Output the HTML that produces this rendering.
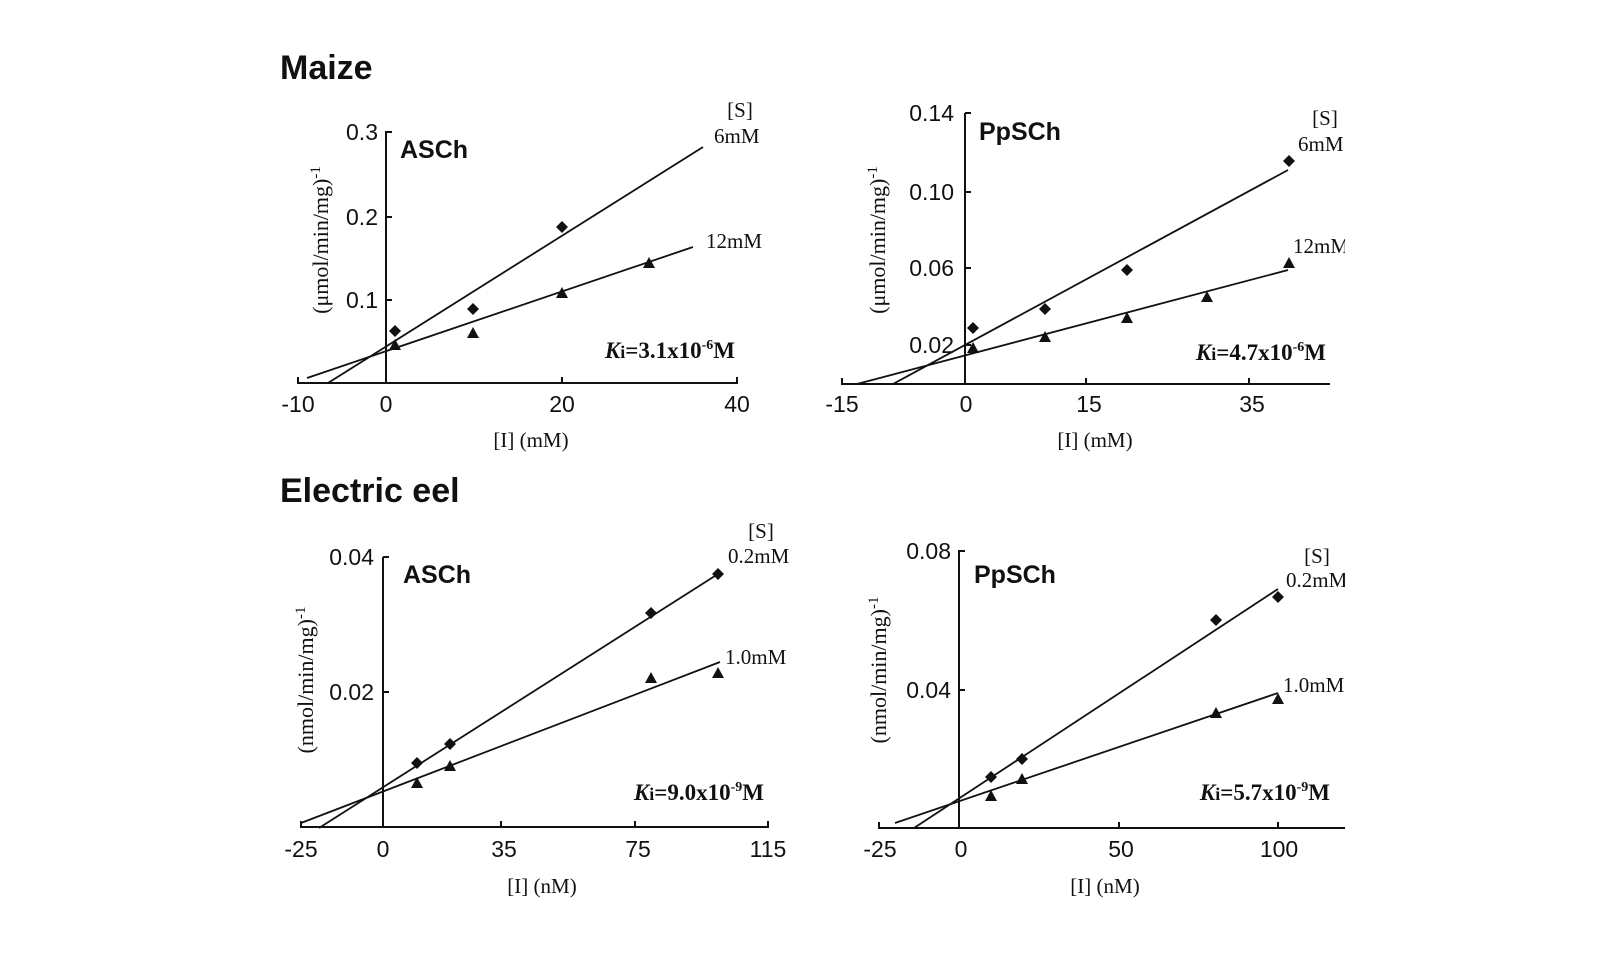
<!DOCTYPE html>
<html><head><meta charset="utf-8"><style>
html,body{margin:0;padding:0;background:#fff;}
svg{display:block;}
.t{font-family:"Liberation Sans",sans-serif;font-size:23px;fill:#111;}
.s{font-family:"Liberation Serif",serif;font-size:21px;fill:#111;}
.y{font-family:"Liberation Serif",serif;font-size:22px;fill:#111;}
.b{font-family:"Liberation Sans",sans-serif;font-weight:bold;font-size:25px;fill:#111;}
.k{font-family:"Liberation Serif",serif;font-weight:bold;font-size:23px;fill:#111;}
line,polyline{stroke:#111;stroke-width:2;fill:none;}
.ln{stroke-width:1.8;}
</style></head><body>
<svg width="1600" height="953" viewBox="0 0 1600 953" xmlns="http://www.w3.org/2000/svg">
<defs>
<path id="d" d="M0,-6 L6,0 L0,6 L-6,0Z" fill="#111"/>
<path id="tr" d="M0,-6 L6,5 L-6,5Z" fill="#111"/>
</defs>
<text x="280" y="79" style="font-family:'Liberation Sans',sans-serif;font-weight:bold;font-size:34px;fill:#111">Maize</text>
<text x="280" y="502" style="font-family:'Liberation Sans',sans-serif;font-weight:bold;font-size:34px;fill:#111">Electric eel</text>

<!-- Panel 1 -->
<line x1="386" y1="131" x2="386" y2="384"/>
<polyline points="298,377 298,383 737,383 737,377"/>
<line x1="562" y1="383" x2="562" y2="377"/>
<line x1="386" y1="132" x2="392" y2="132"/><line x1="386" y1="217" x2="392" y2="217"/><line x1="386" y1="300" x2="392" y2="300"/>
<text class="t" x="378" y="140" text-anchor="end">0.3</text>
<text class="t" x="378" y="225" text-anchor="end">0.2</text>
<text class="t" x="378" y="308" text-anchor="end">0.1</text>
<text class="t" x="298" y="412" text-anchor="middle">-10</text>
<text class="t" x="386" y="412" text-anchor="middle">0</text>
<text class="t" x="562" y="412" text-anchor="middle">20</text>
<text class="t" x="737" y="412" text-anchor="middle">40</text>
<text class="s" x="531" y="447" text-anchor="middle">[I] (mM)</text>
<text class="y" transform="translate(328,240) rotate(-90)" text-anchor="middle">(μmol/min/mg)<tspan dy="-8" font-size="15">-1</tspan></text>
<text class="b" x="400" y="158">ASCh</text>
<line class="ln" x1="328" y1="383" x2="703" y2="147"/>
<line class="ln" x1="307" y1="378" x2="693" y2="247"/>
<use href="#d" x="395" y="331"/><use href="#d" x="473" y="309"/><use href="#d" x="562" y="227"/>
<use href="#tr" x="395" y="345"/><use href="#tr" x="473" y="333"/><use href="#tr" x="562" y="293"/><use href="#tr" x="649" y="263"/>
<text class="s" x="740" y="117" text-anchor="middle">[S]</text>
<text class="s" x="714" y="143">6mM</text>
<text class="s" x="706" y="248">12mM</text>
<text class="k" x="735" y="358" text-anchor="end"><tspan font-style="italic">K</tspan><tspan font-size="18">i</tspan>=3.1x10<tspan dy="-9" font-size="14">-6</tspan><tspan dy="9">M</tspan></text>

<!-- Panel 2 -->
<line x1="965" y1="113" x2="965" y2="384"/>
<polyline points="842,378 842,384 1330,384"/>
<line x1="1086" y1="384" x2="1086" y2="378"/><line x1="1249" y1="384" x2="1249" y2="378"/>
<line x1="965" y1="113" x2="971" y2="113"/><line x1="965" y1="192" x2="971" y2="192"/><line x1="965" y1="268" x2="971" y2="268"/><line x1="965" y1="345" x2="971" y2="345"/>
<text class="t" x="954" y="121" text-anchor="end">0.14</text>
<text class="t" x="954" y="200" text-anchor="end">0.10</text>
<text class="t" x="954" y="276" text-anchor="end">0.06</text>
<text class="t" x="954" y="353" text-anchor="end">0.02</text>
<text class="t" x="842" y="412" text-anchor="middle">-15</text>
<text class="t" x="966" y="412" text-anchor="middle">0</text>
<text class="t" x="1089" y="412" text-anchor="middle">15</text>
<text class="t" x="1252" y="412" text-anchor="middle">35</text>
<text class="s" x="1095" y="447" text-anchor="middle">[I] (mM)</text>
<text class="y" transform="translate(885,240) rotate(-90)" text-anchor="middle">(μmol/min/mg)<tspan dy="-8" font-size="15">-1</tspan></text>
<text class="b" x="979" y="140">PpSCh</text>
<line class="ln" x1="893" y1="384" x2="1288" y2="170"/>
<line class="ln" x1="857" y1="384" x2="1288" y2="270"/>
<use href="#d" x="973" y="328"/><use href="#d" x="1045" y="309"/><use href="#d" x="1127" y="270"/><use href="#d" x="1289" y="161"/>
<use href="#tr" x="973" y="348"/><use href="#tr" x="1045" y="337"/><use href="#tr" x="1127" y="318"/><use href="#tr" x="1207" y="297"/><use href="#tr" x="1289" y="263"/>
<text class="s" x="1325" y="125" text-anchor="middle">[S]</text>
<text class="s" x="1298" y="151">6mM</text>
<text class="s" x="1293" y="253">12mM</text>
<text class="k" x="1326" y="360" text-anchor="end"><tspan font-style="italic">K</tspan><tspan font-size="18">i</tspan>=4.7x10<tspan dy="-9" font-size="14">-6</tspan><tspan dy="9">M</tspan></text>

<!-- Panel 3 -->
<line x1="383" y1="557" x2="383" y2="827"/>
<polyline points="301,821 301,827 768,827 768,821"/>
<line x1="501" y1="827" x2="501" y2="821"/><line x1="635" y1="827" x2="635" y2="821"/>
<line x1="383" y1="557" x2="389" y2="557"/><line x1="383" y1="692" x2="389" y2="692"/>
<text class="t" x="374" y="565" text-anchor="end">0.04</text>
<text class="t" x="374" y="700" text-anchor="end">0.02</text>
<text class="t" x="301" y="857" text-anchor="middle">-25</text>
<text class="t" x="383" y="857" text-anchor="middle">0</text>
<text class="t" x="504" y="857" text-anchor="middle">35</text>
<text class="t" x="638" y="857" text-anchor="middle">75</text>
<text class="t" x="768" y="857" text-anchor="middle">115</text>
<text class="s" x="542" y="893" text-anchor="middle">[I] (nM)</text>
<text class="y" transform="translate(313,680) rotate(-90)" text-anchor="middle">(nmol/min/mg)<tspan dy="-8" font-size="15">-1</tspan></text>
<text class="b" x="403" y="583">ASCh</text>
<line class="ln" x1="319" y1="828" x2="718" y2="574"/>
<line class="ln" x1="301" y1="823" x2="720" y2="662"/>
<use href="#d" x="417" y="763"/><use href="#d" x="450" y="744"/><use href="#d" x="651" y="613"/><use href="#d" x="718" y="574"/>
<use href="#tr" x="417" y="783"/><use href="#tr" x="450" y="766"/><use href="#tr" x="651" y="678"/><use href="#tr" x="718" y="673"/>
<text class="s" x="761" y="538" text-anchor="middle">[S]</text>
<text class="s" x="728" y="563">0.2mM</text>
<text class="s" x="725" y="664">1.0mM</text>
<text class="k" x="764" y="800" text-anchor="end"><tspan font-style="italic">K</tspan><tspan font-size="18">i</tspan>=9.0x10<tspan dy="-9" font-size="14">-9</tspan><tspan dy="9">M</tspan></text>

<!-- Panel 4 -->
<line x1="959" y1="550" x2="959" y2="828"/>
<polyline points="879,822 879,828 1347,828"/>
<line x1="1119" y1="828" x2="1119" y2="822"/><line x1="1278" y1="828" x2="1278" y2="822"/>
<line x1="959" y1="551" x2="965" y2="551"/><line x1="959" y1="690" x2="965" y2="690"/>
<text class="t" x="951" y="559" text-anchor="end">0.08</text>
<text class="t" x="951" y="698" text-anchor="end">0.04</text>
<text class="t" x="880" y="857" text-anchor="middle">-25</text>
<text class="t" x="961" y="857" text-anchor="middle">0</text>
<text class="t" x="1121" y="857" text-anchor="middle">50</text>
<text class="t" x="1279" y="857" text-anchor="middle">100</text>
<text class="s" x="1105" y="893" text-anchor="middle">[I] (nM)</text>
<text class="y" transform="translate(886,670) rotate(-90)" text-anchor="middle">(nmol/min/mg)<tspan dy="-8" font-size="15">-1</tspan></text>
<text class="b" x="974" y="583">PpSCh</text>
<line class="ln" x1="914" y1="828" x2="1278" y2="589"/>
<line class="ln" x1="895" y1="823" x2="1278" y2="693"/>
<use href="#d" x="991" y="777"/><use href="#d" x="1022" y="759"/><use href="#d" x="1216" y="620"/><use href="#d" x="1278" y="597"/>
<use href="#tr" x="991" y="796"/><use href="#tr" x="1022" y="779"/><use href="#tr" x="1216" y="713"/><use href="#tr" x="1278" y="699"/>
<text class="s" x="1317" y="563" text-anchor="middle">[S]</text>
<text class="s" x="1286" y="587">0.2mM</text>
<text class="s" x="1283" y="692">1.0mM</text>
<text class="k" x="1330" y="800" text-anchor="end"><tspan font-style="italic">K</tspan><tspan font-size="18">i</tspan>=5.7x10<tspan dy="-9" font-size="14">-9</tspan><tspan dy="9">M</tspan></text>

<rect x="1345" y="0" width="255" height="953" fill="#fff"/>
</svg>
</body></html>
